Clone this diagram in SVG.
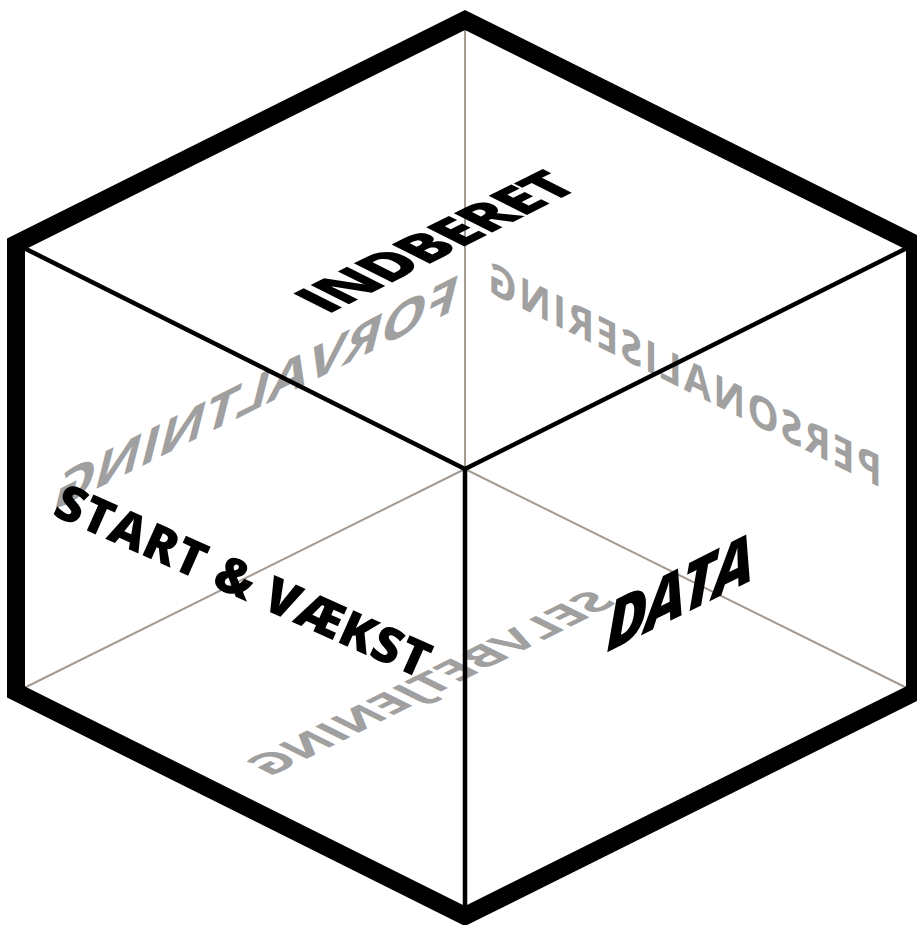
<svg xmlns="http://www.w3.org/2000/svg" width="917" height="925" viewBox="0 0 917 925">
<style>
.lbl{font-family:"Open Sans","Liberation Sans",sans-serif;font-weight:700;text-anchor:middle}
.back{fill:#a0a0a0}
.front{fill:#000;font-weight:800}
.thin{stroke:#a39b92;stroke-width:2;fill:none}
.edge{stroke:#000;stroke-width:4.5;fill:none}
.outline{stroke:#000;stroke-width:18;fill:none;stroke-linejoin:miter}
</style>
<rect width="917" height="925" fill="#fff"/>
<g id="hidden-labels">
  <g id="forvaltning"><text class="lbl back" font-size="46" transform="matrix(-1.22 0.61 -0.29 1.15 252 411)">FORVALTNING</text></g>
  <g id="personalisering"><text class="lbl back" font-size="44" font-weight="600" textLength="440" lengthAdjust="spacing" transform="matrix(-0.894 -0.447 0 1 685 390)">PERSONALISERING</text></g>
  <g id="selvbetjening"><text class="lbl back" font-size="44" transform="matrix(-1.028 0.514 0.894 0.447 444 690)">SELVBETJENING</text></g>
</g>
<g id="connectors">
  <line class="thin" x1="465" y1="20" x2="465" y2="469"/>
  <line class="thin" x1="465" y1="469" x2="16" y2="692"/>
  <line class="thin" x1="465" y1="469" x2="915" y2="692"/>
  <line class="edge" x1="16" y1="244" x2="465" y2="469"/>
  <line class="edge" x1="915" y1="244" x2="465" y2="469"/>
  <line class="edge" x1="465" y1="469" x2="465" y2="916"/>
</g>
<g id="cube-outline">
  <polygon class="outline" points="465,20 915,244 915,692 465,916 16,692 16,244"/>
</g>
<g id="front-labels">
  <g id="indberet"><text class="lbl front" font-size="60" textLength="285" lengthAdjust="spacing" transform="matrix(0.894 -0.447 0.894 0.447 455 251)">INDBERET</text></g>
  <g id="start-vaekst"><text class="lbl front" font-size="50" textLength="405" lengthAdjust="spacing" transform="translate(236 597) rotate(24)">START &amp; VÆKST</text></g>
  <g id="data"><text class="lbl front" font-size="68" font-style="italic" textLength="165" lengthAdjust="spacing" transform="matrix(0.894 -0.447 0 1 680 616)">DATA</text></g>
</g>
</svg>
